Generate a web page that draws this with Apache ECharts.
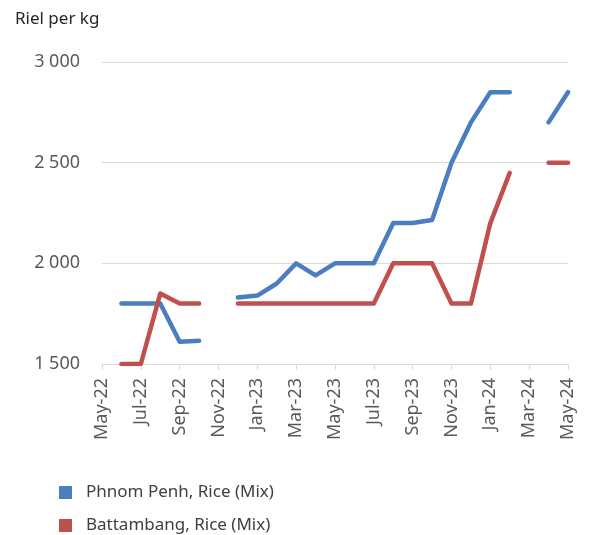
<!DOCTYPE html>
<html>
<head>
<meta charset="utf-8">
<script src="https://cdn.jsdelivr.net/npm/echarts@6/dist/echarts.min.js"></script>
<style>
  html, body { margin: 0; padding: 0; background: #fff; }
  #chart { width: 593px; height: 535px; }
</style>
</head>
<body>
<div id="chart"></div>
<script>
const months = ['May-22','Jun-22','Jul-22','Aug-22','Sep-22','Oct-22','Nov-22','Dec-22',
  'Jan-23','Feb-23','Mar-23','Apr-23','May-23','Jun-23','Jul-23','Aug-23','Sep-23','Oct-23',
  'Nov-23','Dec-23','Jan-24','Feb-24','Mar-24','Apr-24','May-24']
const phnomPenh = [null,1800,1800,1800,1610,1615,null,1830,1840,1900,2000,1940,2000,2000,2000,
  2200,2200,2215,2500,2700,2850,2850,null,2700,2850]
const battambang = [null,1500,1500,1850,1800,1800,null,1800,1800,1800,1800,1800,1800,1800,1800,
  2000,2000,2000,1800,1800,2200,2450,null,2500,2500]
const yTicks = [1500, 2000, 2500, 3000]
const seriesNames = ['Phnom Penh, Rice (Mix)', 'Battambang, Rice (Mix)']

const font = '"Noto Sans", "Liberation Sans", sans-serif'
const legendText = { fontSize: 17, color: '#404040', fontFamily: font, padding: [0, 0, 0, 9] }
const chart = echarts.init(document.getElementById('chart'))
chart.setOption({
  animation: false,
  title: {
    text: 'Riel per kg',
    left: 10,
    top: 6,
    textStyle: { fontSize: 17, fontWeight: 'normal', color: '#262626', fontFamily: font }
  },
  grid: { left: 102, right: 25, top: 62, bottom: 171, containLabel: false },
  legend: [
    { data: [seriesNames[0]], left: 54, top: 479, icon: 'rect', itemWidth: 13, itemHeight: 13, textStyle: legendText },
    { data: [seriesNames[1]], left: 54, top: 512, icon: 'rect', itemWidth: 13, itemHeight: 13, textStyle: legendText }
  ],
  xAxis: {
    type: 'category',
    data: months,
    boundaryGap: false,
    axisLine: { lineStyle: { color: '#d9d9d9', width: 1 } },
    axisTick: { interval: 1, length: 6, lineStyle: { color: '#d9d9d9' } },
    axisLabel: {
      interval: 1,
      rotate: 90,
      margin: 14,
      fontSize: 18,
      color: '#595959',
      fontFamily: font
    },
    splitLine: { show: false }
  },
  yAxis: {
    type: 'value',
    min: yTicks[0],
    max: yTicks[yTicks.length - 1],
    interval: 500,
    axisLine: { show: false },
    axisTick: { show: false },
    axisLabel: {
      margin: 22,
      fontSize: 18,
      color: '#595959',
      fontFamily: font,
      formatter: v => String(v).replace(/\B(?=(\d{3})+(?!\d))/g, ' ')
    },
    splitLine: { lineStyle: { color: '#d9d9d9', width: 1 } }
  },
  series: [
    {
      name: seriesNames[0],
      type: 'line',
      data: phnomPenh,
      showSymbol: false,
      connectNulls: false,
      lineStyle: { width: 4.5, color: '#4a7ebf', cap: 'round', join: 'round' },
      itemStyle: { color: '#4a7ebf' }
    },
    {
      name: seriesNames[1],
      type: 'line',
      data: battambang,
      showSymbol: false,
      connectNulls: false,
      lineStyle: { width: 4.5, color: '#c0504d', cap: 'round', join: 'round' },
      itemStyle: { color: '#c0504d' }
    }
  ]
})
</script>
</body>
</html>
